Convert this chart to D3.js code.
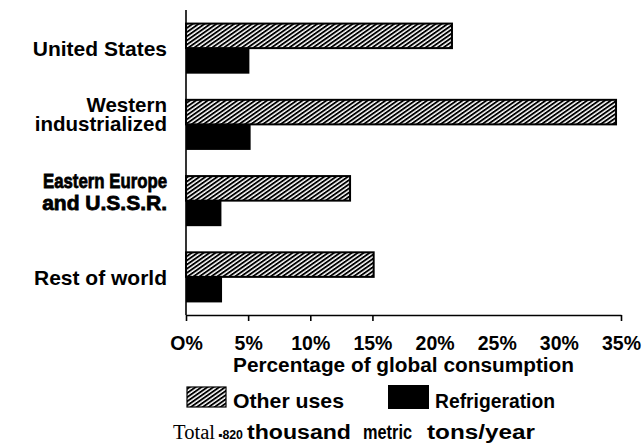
<!DOCTYPE html>
<html>
<head>
<meta charset="utf-8">
<script src="https://cdn.jsdelivr.net/npm/d3@7"></script>
<style>
  html, body { margin: 0; padding: 0; background: #fff; }
  svg { display: block; }
  text { font-family: "Liberation Sans", Arial, sans-serif; font-weight: bold; fill: #000; }
</style>
</head>
<body>
<svg id="chart" width="642" height="443"></svg>
<script>
// ---- data ----
const categories = ["United States", "Western industrialized", "Eastern Europe and U.S.S.R.", "Rest of world"];
const categoryLines = [["United States"], ["Western", "industrialized"], ["Eastern Europe", "and U.S.S.R."], ["Rest of world"]];
const seriesNames = ["Other uses", "Refrigeration"];
const otherUses = [21.4, 34.6, 13.2, 15.1];
const refrigeration = [5.1, 5.2, 2.85, 2.9];
const tickValues = [0, 5, 10, 15, 20, 25, 30, 35];
const tickLabels = ["O%", "5%", "10%", "15%", "20%", "25%", "30%", "35%"];
const tickMarks = [0, 5, 10, 15, 35];
const axisTitle = "Percentage of global consumption";
const totalWords = ["Total", "\u25AA820", "thousand", "metric", "tons/year"];

// ---- setup ----
const svg = d3.select("#chart");
const defs = svg.append("defs");
const pat = defs.append("pattern")
  .attr("id", "hatch")
  .attr("patternUnits", "userSpaceOnUse")
  .attr("width", 10).attr("height", 3.4)
  .attr("patternTransform", "rotate(-35)");
pat.append("rect").attr("width", 10).attr("height", 3.4).attr("fill", "#fff");
pat.append("rect").attr("y", 0).attr("width", 10).attr("height", 1.9).attr("fill", "#000");

const x = d3.scaleLinear().domain([0, 35]).range([186, 621]);
const y = d3.scaleBand().domain(categories).range([10, 315]).paddingInner(0.33).paddingOuter(0.165);
const ySub = d3.scaleBand().domain(seriesNames).range([0, y.bandwidth()]).padding(0);

const rows = categories.map((c, i) => ({ cat: c, lines: categoryLines[i], vals: [otherUses[i], refrigeration[i]] }));

// bars
const g = svg.append("g");
rows.forEach(r => {
  r.vals.forEach((v, j) => {
    const s = seriesNames[j];
    g.append("rect")
      .attr("x", x(0))
      .attr("y", y(r.cat) + ySub(s) + (j === 0 ? 1 : 0))
      .attr("width", x(v) - x(0))
      .attr("height", ySub.bandwidth() - (j === 0 ? 1 : 0))
      .attr("fill", j === 0 ? "url(#hatch)" : "#000")
      .attr("stroke", j === 0 ? "#000" : "none")
      .attr("stroke-width", 2);
  });
});

// left axis line
svg.append("line")
  .attr("x1", x(0)).attr("x2", x(0))
  .attr("y1", 10).attr("y2", 315)
  .attr("stroke", "#000").attr("stroke-width", 1.6);

// bottom axis: ticks
const axisTicks = d3.axisBottom(x).tickValues(tickMarks).tickSizeInner(6).tickSizeOuter(0).tickFormat("");
const ax = svg.append("g").attr("transform", "translate(0,315)").call(axisTicks);
ax.select(".domain").attr("stroke", "#000").attr("stroke-width", 1.6);
ax.selectAll(".tick line").attr("stroke", "#000").attr("stroke-width", 1.6);

// bottom axis: labels
const axisLabels = d3.axisBottom(x).tickValues(tickValues).tickSize(0)
  .tickFormat((d, i) => tickLabels[i]);
const al = svg.append("g").attr("transform", "translate(0,315)").call(axisLabels);
al.select(".domain").remove();
al.selectAll(".tick text")
  .attr("y", 35).attr("dy", 0)
  .style("font-family", "'Liberation Sans', Arial, sans-serif")
  .style("font-weight", "bold")
  .style("font-size", "19.5px")
  .attr("fill", "#000");

// axis title
svg.append("text")
  .attr("x", 403.5).attr("y", 372)
  .attr("text-anchor", "middle")
  .attr("textLength", 341).attr("lengthAdjust", "spacingAndGlyphs")
  .style("font-size", "20px")
  .text(axisTitle);

// category labels
const labelOffsets = [[8], [-12.5, 6.5], [-12.4, 9.3], [8]];
rows.forEach((r, i) => {
  const cy = y(r.cat) + y.bandwidth() / 2;
  r.lines.forEach((ln, k) => {
    const t = svg.append("text")
      .attr("x", 167)
      .attr("y", cy + labelOffsets[i][k])
      .attr("text-anchor", "end")
      .style("font-size", i === 1 ? "20.5px" : "21px")
      .text(ln);
    if (i === 2) {
      t.attr("stroke", "#000").attr("stroke-width", 0.8);
      if (k === 0) t.attr("textLength", 124).attr("lengthAdjust", "spacingAndGlyphs");
    }
  });
});

// legend
const leg = svg.append("g");
leg.append("rect").attr("x", 187).attr("y", 387).attr("width", 39).attr("height", 20)
  .attr("fill", "url(#hatch)").attr("stroke", "#000").attr("stroke-width", 1.2);
leg.append("text").attr("x", 233).attr("y", 408)
  .attr("textLength", 111).attr("lengthAdjust", "spacingAndGlyphs")
  .style("font-size", "20.5px").text(seriesNames[0]);
leg.append("rect").attr("x", 388).attr("y", 385).attr("width", 41).attr("height", 24).attr("fill", "#000");
leg.append("text").attr("x", 435).attr("y", 408)
  .attr("textLength", 120).attr("lengthAdjust", "spacingAndGlyphs")
  .style("font-size", "20px").text(seriesNames[1]);

// total note
const totX = [173, 218, 247, 363, 427];
const totW = [42, 25, 104, 49, 108];
totalWords.forEach((w, i) => {
  const t = svg.append("text")
    .attr("x", totX[i]).attr("y", 439)
    .attr("textLength", totW[i]).attr("lengthAdjust", "spacingAndGlyphs")
    .text(w);
  if (i === 0) {
    t.style("font-family", "'Liberation Serif', 'Times New Roman', serif")
      .style("font-weight", "normal").style("font-size", "20px");
  } else if (i === 1) {
    t.style("font-size", "12px");
  } else {
    t.style("font-size", "20px");
  }
});
</script>
</body>
</html>
